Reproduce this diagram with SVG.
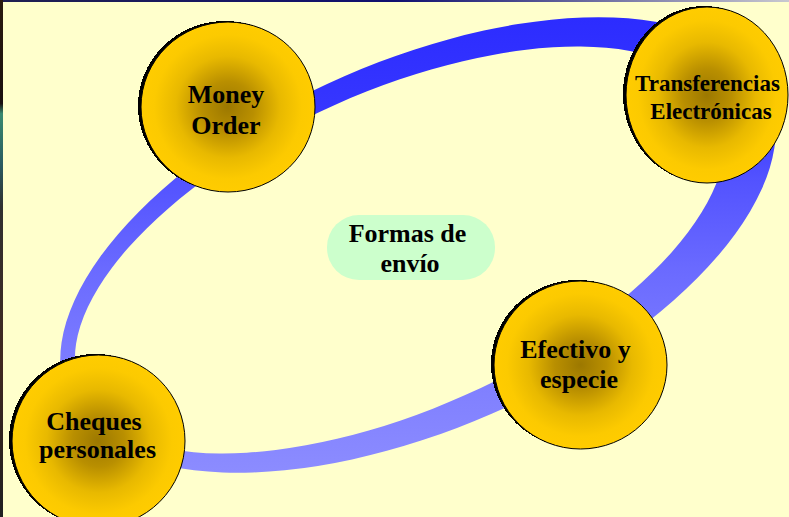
<svg xmlns="http://www.w3.org/2000/svg" width="789" height="517" viewBox="0 0 789 517">
<defs>
<linearGradient id="ringGrad" gradientUnits="userSpaceOnUse" x1="0" y1="18" x2="0" y2="474">
<stop offset="0" stop-color="#2c2cff"/>
<stop offset="0.2" stop-color="#3636ff"/>
<stop offset="0.35" stop-color="#5252ff"/>
<stop offset="0.55" stop-color="#6a6aff"/>
<stop offset="0.75" stop-color="#7c7cff"/>
<stop offset="1" stop-color="#8c8cff"/>
</linearGradient>
<radialGradient id="gold" cx="0.5" cy="0.5" r="0.5">
<stop offset="0" stop-color="#9c7800"/>
<stop offset="0.3" stop-color="#b98f00"/>
<stop offset="0.6" stop-color="#e8b900"/>
<stop offset="0.85" stop-color="#fcca00"/>
<stop offset="1" stop-color="#ffcc00"/>
</radialGradient>
<linearGradient id="topStrip" x1="0" y1="0" x2="1" y2="0">
<stop offset="0" stop-color="#202050"/>
<stop offset="0.5" stop-color="#101070"/>
<stop offset="1" stop-color="#c8c8d0"/>
</linearGradient>
<linearGradient id="leftStrip" x1="0" y1="0" x2="0" y2="1">
<stop offset="0" stop-color="#2a1a10"/>
<stop offset="0.2" stop-color="#1a1010"/>
<stop offset="0.22" stop-color="#3a8a70"/>
<stop offset="0.32" stop-color="#2a5a60"/>
<stop offset="0.4" stop-color="#303030"/>
<stop offset="0.7" stop-color="#402820"/>
<stop offset="1" stop-color="#202020"/>
</linearGradient>
</defs>
<style>
.shadow{fill:#000;shape-rendering:crispEdges}
.disc{fill:url(#gold);stroke:#000;stroke-width:1}
.lbl{font-family:"Liberation Serif","Times New Roman",serif;font-weight:bold;font-size:26px;fill:#000;text-anchor:middle}
.sm{font-size:23px}
</style>
<rect x="0" y="0" width="789" height="517" fill="#ffffcc"/>
<rect x="0" y="0" width="789" height="2" fill="url(#topStrip)"/>
<rect x="0" y="0" width="3" height="517" fill="url(#leftStrip)"/>
<g id="connectors">
<path fill="url(#ringGrad)" fill-rule="evenodd" d="M768.1 92.05 A382 184 -23.6 1 0 67.9 397.95 A382 184 -23.6 1 0 768.1 92.05 Z M717.9 108.5 A348 157 -24 1 0 82.1 391.5 A348 157 -24 1 0 717.9 108.5 Z"/>
</g>
<g id="center-label">
<rect x="327" y="215" width="168" height="65" rx="32" ry="32" fill="#ccffcc"/>
<text class="lbl" x="407.5" y="242">Formas de</text>
<text class="lbl" x="410" y="272">envío</text>
</g>
<g id="money-order">
<ellipse class="shadow" cx="225" cy="106" rx="87" ry="85"/>
<ellipse class="disc" cx="228" cy="107" rx="87" ry="85"/>
<text class="lbl" x="226" y="103">Money</text>
<text class="lbl" x="226" y="134">Order</text>
</g>
<g id="transferencias">
<ellipse class="shadow" cx="704" cy="94" rx="81" ry="88"/>
<ellipse class="disc" cx="707" cy="95" rx="81" ry="88"/>
<text class="lbl sm" x="707.5" y="91">Transferencias</text>
<text class="lbl sm" x="711" y="119">Electrónicas</text>
</g>
<g id="efectivo">
<ellipse class="shadow" cx="577.5" cy="364" rx="86.5" ry="84"/>
<ellipse class="disc" cx="580.5" cy="365" rx="86.5" ry="84"/>
<text class="lbl" x="575.5" y="358">Efectivo y</text>
<text class="lbl" x="579" y="388">especie</text>
</g>
<g id="cheques">
<ellipse class="shadow" cx="95.5" cy="440" rx="86.5" ry="86"/>
<ellipse class="disc" cx="98.5" cy="441" rx="86.5" ry="86"/>
<text class="lbl" x="94" y="430">Cheques</text>
<text class="lbl" x="97.5" y="458">personales</text>
</g>
</svg>
